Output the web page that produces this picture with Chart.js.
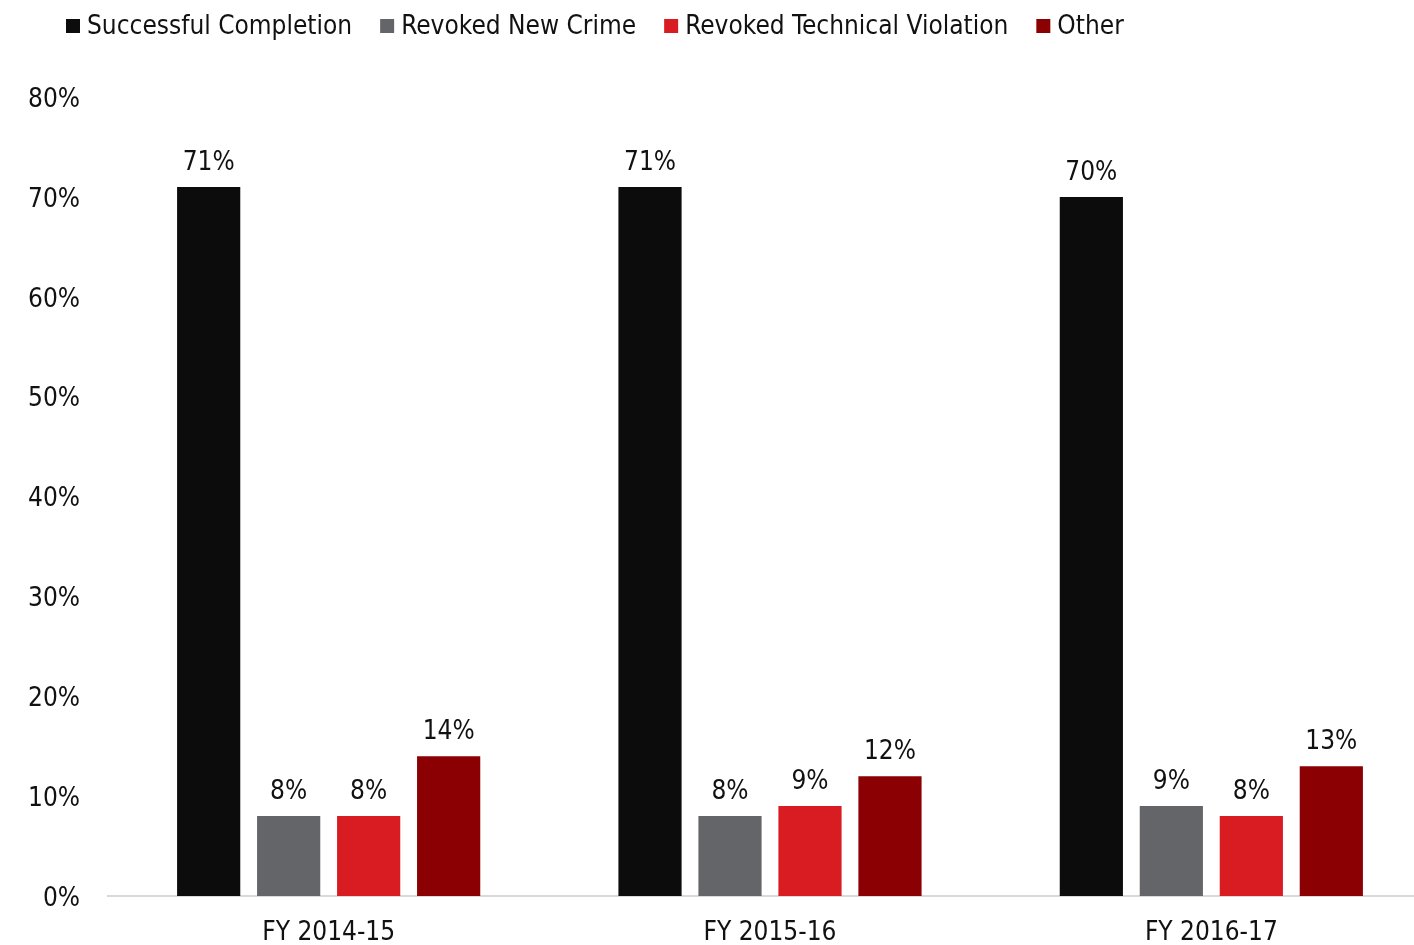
<!DOCTYPE html>
<html>
<head>
<meta charset="utf-8">
<script src="https://cdn.jsdelivr.net/npm/chart.js@4/dist/chart.umd.min.js"></script>
<style>
html,body{margin:0;padding:0;background:#fff;overflow:hidden;width:1414px;height:945px;}
canvas{display:block;}
</style>
</head>
<body>
<canvas id="c" width="1432" height="945"></canvas>
<script>
const categories = ['FY 2014-15', 'FY 2015-16', 'FY 2016-17'];
const seriesNames = ['Successful Completion', 'Revoked New Crime', 'Revoked Technical Violation', 'Other'];
const successfulCompletion = [71, 71, 70];
const revokedNewCrime = [8, 8, 9];
const revokedTechnicalViolation = [8, 9, 8];
const other = [14, 12, 13];
const seriesColors = ['#0c0c0c', '#646569', '#d81c22', '#8a0003'];
const yTicks = [0, 10, 20, 30, 40, 50, 60, 70, 80];

const FONT = '"DejaVu Sans Condensed", "Liberation Sans", sans-serif';
const FS = 26;

const valueLabels = {
  id: 'valueLabels',
  afterDatasetsDraw(chart) {
    const ctx = chart.ctx;
    ctx.save();
    ctx.font = FS + 'px ' + FONT;
    ctx.fillStyle = '#111';
    ctx.textAlign = 'center';
    ctx.textBaseline = 'alphabetic';
    chart.data.datasets.forEach((ds, i) => {
      const meta = chart.getDatasetMeta(i);
      meta.data.forEach((el, j) => {
        ctx.fillText(ds.data[j] + '%', el.x, el.y - 17);
      });
    });
    ctx.restore();
  }
};

const topLegend = {
  id: 'topLegend',
  afterDraw(chart) {
    const ctx = chart.ctx;
    ctx.save();
    ctx.font = FS + 'px ' + FONT;
    ctx.textBaseline = 'middle';
    ctx.textAlign = 'left';
    let x = 66;
    const y = 26;
    chart.data.datasets.forEach((ds) => {
      ctx.fillStyle = ds.backgroundColor;
      ctx.fillRect(x, y - 7, 14, 14);
      ctx.fillStyle = '#111';
      ctx.fillText(ds.label, x + 21, y + 1);
      x += 21 + ctx.measureText(ds.label).width + 28;
    });
    ctx.restore();
  }
};

const seriesData = [successfulCompletion, revokedNewCrime, revokedTechnicalViolation, other];

new Chart(document.getElementById('c'), {
  type: 'bar',
  data: {
    labels: categories,
    datasets: seriesNames.map((name, i) => ({
      label: name,
      data: seriesData[i],
      backgroundColor: seriesColors[i],
      categoryPercentage: 0.725,
      barPercentage: 0.79
    }))
  },
  options: {
    responsive: false,
    devicePixelRatio: 1,
    animation: false,
    layout: { padding: { top: 97, left: 0, right: 0, bottom: 0 } },
    plugins: { legend: { display: false }, tooltip: { enabled: false } },
    scales: {
      x: {
        grid: { display: false, drawTicks: false },
        border: { display: true, color: '#d9d9d9', width: 2 },
        ticks: { color: '#111', font: { family: FONT, size: FS }, padding: 22 },
        afterFit(scale) { scale.height = 49; }
      },
      y: {
        min: 0, max: 80,
        afterBuildTicks(scale) { scale.ticks = yTicks.map(v => ({ value: v })); },
        grid: { display: false, drawTicks: false },
        border: { display: false },
        ticks: { color: '#111', font: { family: FONT, size: FS }, padding: 28, labelOffset: 3, callback: v => v + '%' },
        afterFit(scale) { scale.width = 108; }
      }
    }
  },
  plugins: [valueLabels, topLegend]
});
</script>
</body>
</html>
